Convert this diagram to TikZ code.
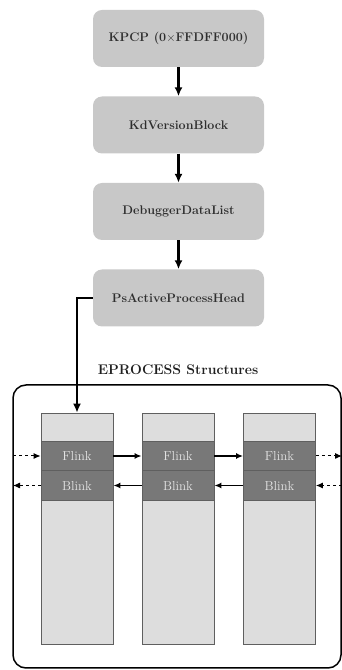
\documentclass[tikz,border=0pt]{standalone}
\usepackage{tikz}
\usetikzlibrary{arrows.meta}
\definecolor{boxgray}{RGB}{200,200,200}
\definecolor{structlight}{RGB}{221,221,221}
\definecolor{structdark}{RGB}{120,120,120}
\definecolor{structline}{RGB}{95,95,95}
\tikzset{
	ptrbox/.style={fill=boxgray, rounded corners=9pt, minimum width=171pt, minimum height=57pt, font=\bfseries\fontsize{12.5}{14}\selectfont, text=black!82},
	partlight/.style={draw=structline, line width=0.8pt, fill=structlight, minimum width=72pt, inner sep=0pt},
	partdark/.style={draw=structline, line width=0.8pt, fill=structdark, minimum width=72pt, minimum height=29.5pt, inner sep=0pt, text=white!90!black, font=\fontsize{13}{15}\selectfont},
	ptrarrow/.style={line width=2.2pt, -{Latex[length=9pt,width=8pt]}},
	linkarrow/.style={line width=1.6pt, -{Latex[length=7pt,width=6pt]}},
}
\begin{document}
\begin{tikzpicture}[x=1pt, y=1pt]
			%%%%% START %%%%%
			\useasboundingbox (0, 0) rectangle (342, 670);
			
			\node[ptrbox] (kpcp) at (178.5, 631.5) {KPCP (0$\times$FFDFF000)};
			\node[ptrbox] (kdver) at (178.5, 545) {KdVersionBlock};
			\node[ptrbox] (dbglist) at (178.5, 458.5) {DebuggerDataList};
			\node[ptrbox] (pshead) at (178.5, 372) {PsActiveProcessHead};
			
			\draw[ptrarrow] (kpcp) -- (kdver);
			\draw[ptrarrow] (kdver) -- (dbglist);
			\draw[ptrarrow] (dbglist) -- (pshead);
			
			\node[font=\bfseries\fontsize{14}{16}\selectfont, text=black!88] (eplabel) at (178, 300) {EPROCESS Structures};
			\draw[line width=1.5pt, rounded corners=13pt] (13, 2) rectangle (341, 285);
			
			\foreach \col/\cx in {1/77, 2/178, 3/279.5} {
				\node[partlight, minimum height=28pt] (top\col) at (\cx, 243) {};
				\node[partdark] (fl\col) at (\cx, 214) {Flink};
				\node[partdark] (bl\col) at (\cx, 184.5) {Blink};
				\node[partlight, minimum height=144pt] (bot\col) at (\cx, 98) {};
			}
			
			\draw[ptrarrow, line width=1.6pt] (pshead.west) -| (top1.north);
			
			\draw[linkarrow] (fl1) -- (fl2);
			\draw[linkarrow] (fl2) -- (fl3);
			\draw[linkarrow] (bl2) -- (bl1);
			\draw[linkarrow] (bl3) -- (bl2);
			
			\coordinate (flin) at (13, 214);
			\coordinate (flout) at (342, 214);
			\coordinate (blout) at (13, 184.5);
			\coordinate (blin) at (342, 184.5);
			\draw[linkarrow, line width=1pt, dashed] (flin) -- (fl1.west);
			\draw[linkarrow, line width=1pt, dashed] (fl3.east) -- (flout);
			\draw[linkarrow, line width=1pt, dashed] (bl1.west) -- (blout);
			\draw[linkarrow, line width=1pt, dashed] (blin) -- (bl3.east);
			
			%%%%% END %%%%%
\end{tikzpicture}
\end{document}
